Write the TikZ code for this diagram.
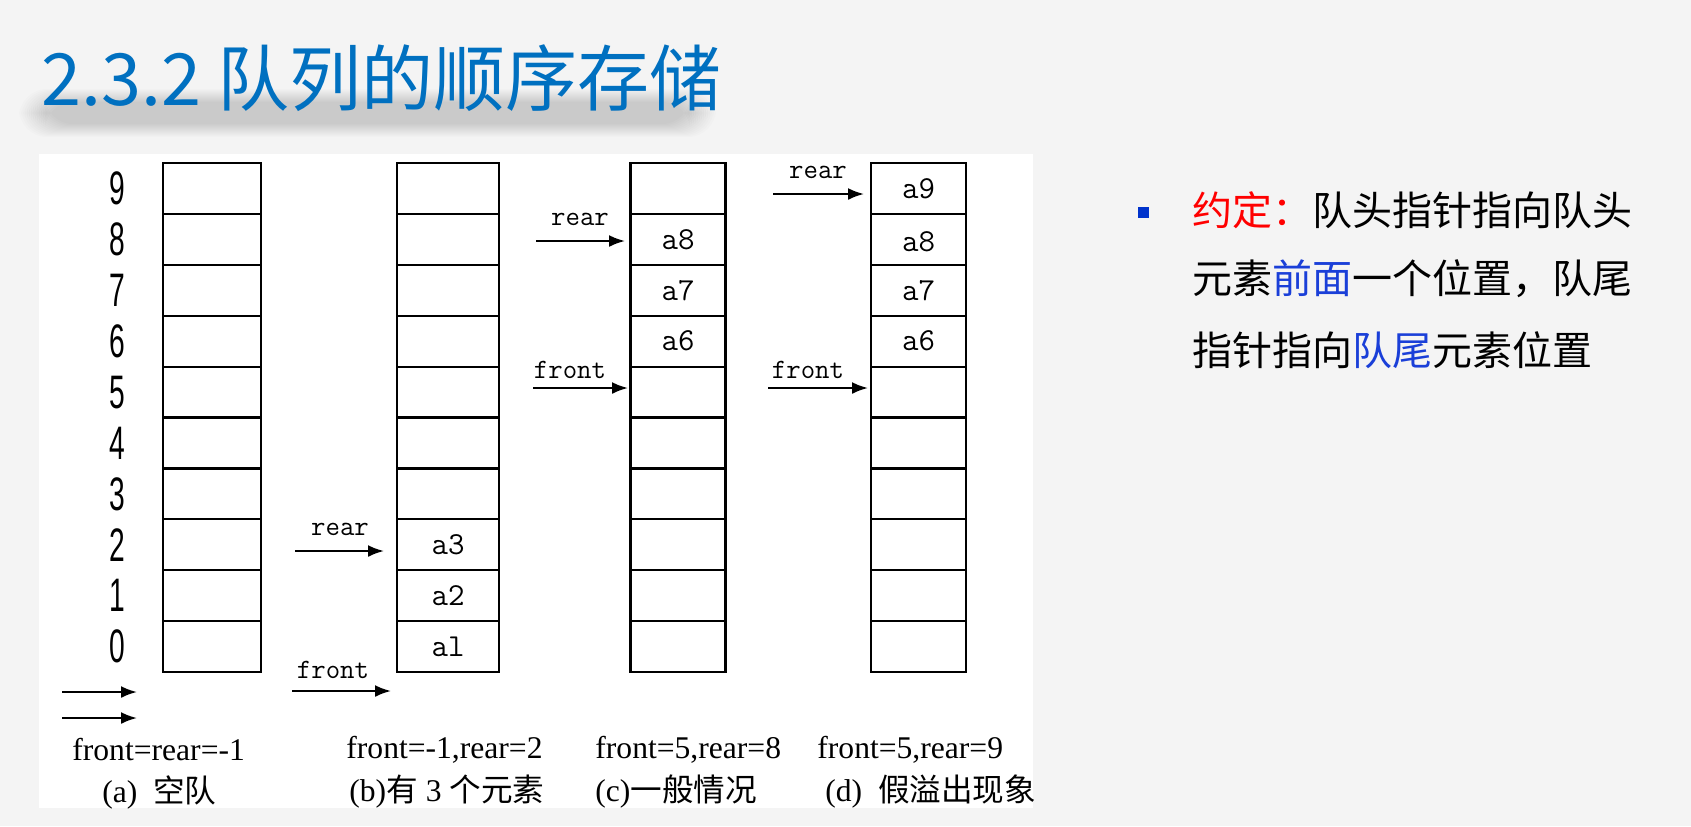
\documentclass[tikz,border=0pt]{standalone}
\usepackage{fontspec}
\setmainfont{Liberation Serif}
\newfontfamily\cjk{Noto Sans CJK SC}
\newfontfamily\idxfont{Liberation Sans}
\usetikzlibrary{arrows.meta}
\tikzset{>={Latex[length=8pt,width=6pt]}}
\definecolor{pagegray}{HTML}{F4F4F4}
\definecolor{titleblue}{HTML}{0070C0}
\definecolor{keyred}{HTML}{FF0000}
\definecolor{keyblue}{HTML}{1A3FD8}
\definecolor{bulletblue}{HTML}{0033CC}

\begin{document}
\begin{tikzpicture}[x=0.5pt, y=-0.5pt,
    cell/.style={draw, line width=1.1pt, minimum height=25.45pt, inner sep=0pt},
    val/.style={font=\ttfamily\fontsize{16}{16}\selectfont, inner sep=0pt},
    idx/.style={font=\idxfont\fontsize{23.5}{24}\selectfont, inner sep=0pt},
    ptrlabel/.style={font=\ttfamily\fontsize{14}{14}\selectfont, inner sep=0pt},
    ptr/.style={->, line width=1.1pt},
    caption/.style={font=\fontsize{15.8}{16}\selectfont, inner sep=0pt, anchor=west},
    heading/.style={font=\cjk\fontsize{36}{40}\selectfont, inner sep=0pt, anchor=base west},
    rule/.style={font=\cjk\fontsize{20}{20}\selectfont, inner sep=0pt, anchor=west}]
  \useasboundingbox (0,0) rectangle (1691,826);
  \fill[pagegray] (0,0) rectangle (1691,826);

  % soft shadow under the title
  \foreach \g in {0,2,...,26}
    \fill[black, opacity=0.011, rounded corners=14pt] (45-\g,{102-\g/2}) rectangle (690+\g,{124+\g/2});

  \node[heading, text=titleblue] (title) at (41,105) {2.3.2 队列的顺序存储};

  % white panel of the figure
  \fill[white] (39,154) rectangle (1033,808);

  % the four arrays
  \foreach \col/\x/\w in {A/212/49, B/448/51, C/678/47.5, D/918.5/47.5}
    \foreach \i in {0,...,9}
      \node[cell, minimum width=\w pt] (\col\i) at (\x,{188.45+50.9*(9-\i)}) {};
  \foreach \i in {0,...,9}
    \node[idx] (n\i) at (117,{188.45+50.9*(9-\i)}) {\scalebox{0.6}[1]{\i}};

  % stored elements
  \node[val] (vB2) at (B2) {a3};
  \node[val] (vB1) at (B1) {a2};
  \node[val] (vB0) at (B0) {al};
  \node[val] (vC8) at (C8) {a8};
  \node[val] (vC7) at (C7) {a7};
  \node[val] (vC6) at (C6) {a6};
  \node[val] (vD9) at (D9) {a9};
  \node[val] (vD8) at ([yshift=-1pt]D8) {a8};
  \node[val] (vD7) at (D7) {a7};
  \node[val] (vD6) at (D6) {a6};

  % (a) empty queue
  \coordinate (frontAs) at (62,692);
  \coordinate (frontAe) at (137,692);
  \coordinate (rearAs) at (62,718);
  \coordinate (rearAe) at (137,718);
  \draw[ptr] (frontAs) -- (frontAe);
  \draw[ptr] (rearAs) -- (rearAe);

  % (b) three elements
  \node[ptrlabel] (rearB) at (340,529) {rear};
  \coordinate (rearBs) at (295,551);
  \coordinate (rearBe) at (384,551);
  \draw[ptr] (rearBs) -- (rearBe);
  \node[ptrlabel] (frontB) at (333,670) {front};
  \coordinate (frontBs) at (292,691);
  \coordinate (frontBe) at (391,691);
  \draw[ptr] (frontBs) -- (frontBe);

  % (c) general case
  \node[ptrlabel] (rearC) at (580,219) {rear};
  \coordinate (rearCs) at (536,241);
  \coordinate (rearCe) at (625,241);
  \draw[ptr] (rearCs) -- (rearCe);
  \node[ptrlabel] (frontC) at (570,370) {front};
  \coordinate (frontCs) at (533,388);
  \coordinate (frontCe) at (628,388);
  \draw[ptr] (frontCs) -- (frontCe);

  % (d) false overflow
  \node[ptrlabel] (rearD) at (818,172) {rear};
  \coordinate (rearDs) at (773,194);
  \coordinate (rearDe) at (864,194);
  \draw[ptr] (rearDs) -- (rearDe);
  \node[ptrlabel] (frontD) at (808,370) {front};
  \coordinate (frontDs) at (768,388);
  \coordinate (frontDe) at (868,388);
  \draw[ptr] (frontDs) -- (frontDe);

  % captions
  \node[caption] (capA1) at (72,750) {front=rear=-1};
  \node[caption] (capA2) at (102,792) {(a)\ \ {\cjk 空队}};
  \node[caption] (capB1) at (346,750) {front=-1,rear=2};
  \node[caption] (capB2) at (349,792) {(b){\cjk 有} 3 {\cjk 个元素}};
  \node[caption] (capC1) at (595,750) {front=5,rear=8};
  \node[caption] (capC2) at (595,792) {(c){\cjk 一般情况}};
  \node[caption] (capD1) at (817,750) {front=5,rear=9};
  \node[caption] (capD2) at (825,792) {(d)\ \ {\cjk 假溢出现象}};

  % convention text
  \node[fill=bulletblue, minimum size=5.5pt, inner sep=0pt] (bullet) at (1143.5,212.5) {};
  \node[rule] (rule1) at (1192,210) {\textcolor{keyred}{约定：}队头指针指向队头};
  \node[rule] (rule2) at (1192,279) {元素\textcolor{keyblue}{前面}一个位置，队尾};
  \node[rule] (rule3) at (1192,350) {指针指向\textcolor{keyblue}{队尾}元素位置};
\end{tikzpicture}
\end{document}
